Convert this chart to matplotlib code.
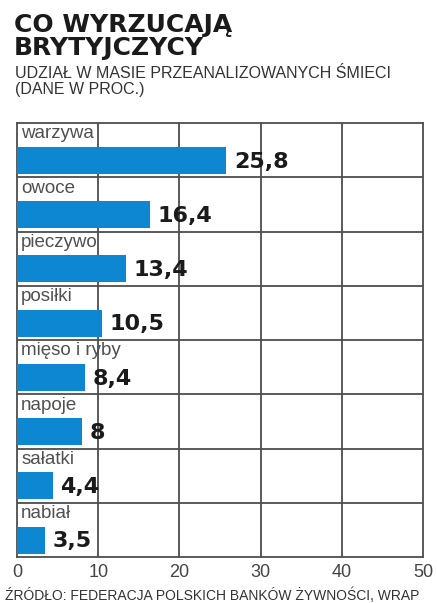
import matplotlib.pyplot as plt
import numpy as np

categories = ["warzywa", "owoce", "pieczywo", "posiłki", "mięso i ryby", "napoje", "sałatki", "nabiał"]
values = [25.8, 16.4, 13.4, 10.5, 8.4, 8, 4.4, 3.5]
value_labels = ["25,8", "16,4", "13,4", "10,5", "8,4", "8", "4,4", "3,5"]
xticks = [0, 10, 20, 30, 40, 50]

title = "CO WYRZUCAJĄ\nBRYTYJCZYCY"
subtitle = "UDZIAŁ W MASIE PRZEANALIZOWANYCH ŚMIECI\n(DANE W PROC.)"
source = "ŹRÓDŁO: FEDERACJA POLSKICH BANKÓW ŻYWNOŚCI, WRAP"

bar_color = "#0e87d3"
grid_color = "#4d4d4d"

fig = plt.figure(figsize=(4.37, 6.03), dpi=100)
ax = fig.add_axes([17/437, 1-557/603, 406/437, 434/603])

n = len(categories)
rows = np.arange(n)
ax.barh(rows + 0.69, values, height=0.5, color=bar_color, zorder=3)

for i, (c, v, lab) in enumerate(zip(categories, values, value_labels)):
    ax.text(0.5, i + 0.2, c, fontsize=13.5, color="#505050", va="center", ha="left",
            family="Liberation Sans", zorder=4)
    ax.text(v + 0.9, i + 0.71, lab, fontsize=16, fontweight="bold", color="#1a1a1a",
            va="center", ha="left", family="DejaVu Sans", zorder=4)

for i in range(1, n):
    ax.axhline(i, color=grid_color, lw=1.3, zorder=2)
for x in xticks[1:-1]:
    ax.axvline(x, color=grid_color, lw=1.3, zorder=2)

ax.set_xlim(0, 50)
ax.set_ylim(n, 0)
ax.set_yticks([])
ax.set_xticks(xticks)
ax.set_xticklabels([str(t) for t in xticks], fontsize=13, color="#444444", family="Liberation Sans")
ax.tick_params(axis="x", length=0, pad=5)
for s in ax.spines.values():
    s.set_color(grid_color)
    s.set_linewidth(1.3)

fig.text(14/437, 1-13/603, title, fontsize=18, fontweight="heavy", family="DejaVu Sans",
         va="top", ha="left", color="#1a1a1a", linespacing=0.95)
fig.text(15/437, 1-66/603, subtitle, fontsize=11.5, family="Liberation Sans",
         va="top", ha="left", color="#333333", linespacing=1.05)
fig.text(5/437, 1-588/603, source, fontsize=10, family="Liberation Sans",
         va="top", ha="left", color="#333333")

plt.savefig("out.png", dpi=100)
